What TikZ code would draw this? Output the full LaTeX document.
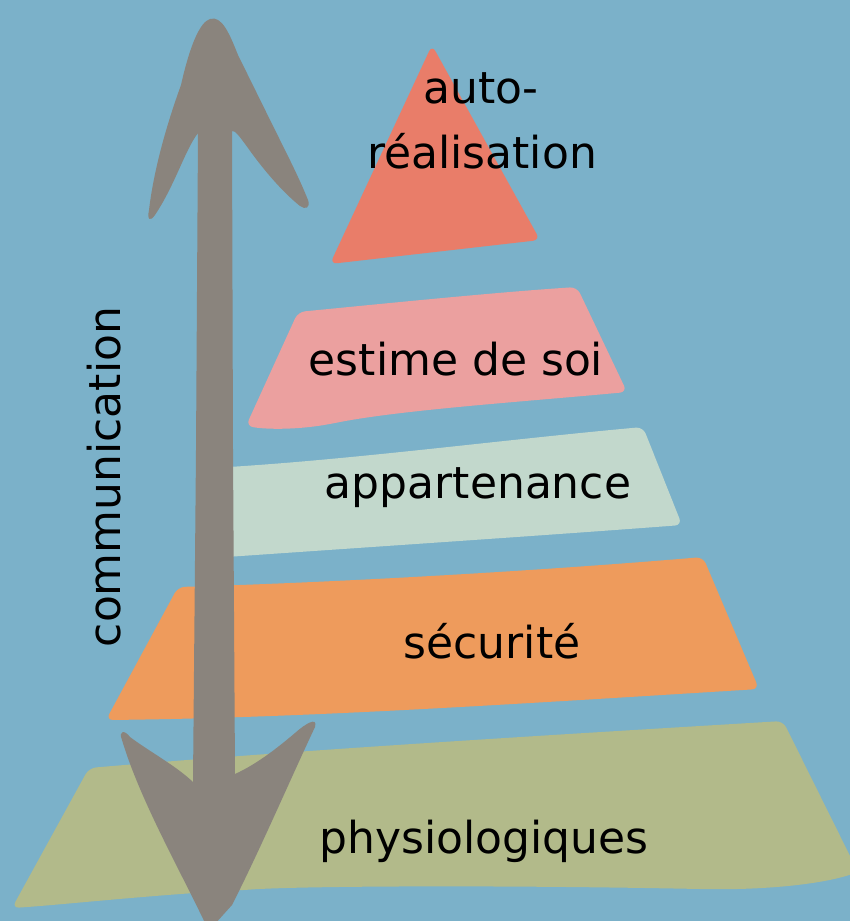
\documentclass[tikz,border=0pt]{standalone}
\usepackage{fontspec}
\newfontfamily\labelfont{DejaVu Sans}
\definecolor{bgblue}{RGB}{123,177,201}
\definecolor{arrowgray}{RGB}{138,132,125}
\definecolor{toptri}{RGB}{233,125,105}
\definecolor{estimec}{RGB}{235,160,159}
\definecolor{appartc}{RGB}{194,216,204}
\definecolor{securc}{RGB}{238,155,92}
\definecolor{physioc}{RGB}{178,186,138}
\tikzset{
  layer/.style={rounded corners=7pt, draw=none},
  lbl/.style={font=\labelfont\fontsize{44}{52}\selectfont, text=black, anchor=base, inner sep=0pt}
}
\begin{document}
\begin{tikzpicture}[x=1pt,y=-1pt]
\useasboundingbox (0,0) rectangle (850,921);
\clip (0,0) rectangle (850,921);
\fill[bgblue] (0,0) rectangle (850,921);

% pyramid layers
\fill[layer, toptri] (432,45) -- (540,240) -- (330,264) -- cycle;
\fill[layer, estimec] (298,312) .. controls (400,302) and (500,292) .. (577,287)
  -- (627,392) .. controls (520,402) and (400,410) .. (330,424)
  .. controls (300,429) and (270,430) .. (246,426) -- cycle;
\fill[layer, appartc] (212,468) .. controls (350,460) and (500,440) .. (643,427)
  -- (682,525) .. controls (550,535) and (400,545) .. (212,558) -- cycle;
\fill[layer, securc] (178,587) .. controls (350,582) and (550,570) .. (703,557)
  -- (759,689) .. controls (500,705) and (300,718) .. (106,720) -- cycle;
\fill[layer, physioc] (89,768) .. controls (300,750) and (550,735) .. (783,721)
  -- (858,872) .. controls (820,885) and (760,890) .. (700,889)
  .. controls (500,885) and (300,886) .. (244,890)
  .. controls (150,895) and (60,905) .. (12,908) -- cycle;

% labels
\node[lbl] (auto) at (481,103) {auto-};
\node[lbl] (real) at (482,168) {réalisation};
\node[lbl] (estime) at (456,375) {estime de soi};
\node[lbl] (appart) at (478,498) {appartenance};
\node[lbl] (secur) at (492,658) {sécurité};
\node[lbl] (physio) at (484,853) {physiologiques};

% double arrow
\fill[arrowgray] (210,19) .. controls (222,15) and (230,35) .. (238,55)
  -- (275,130) .. controls (290,160) and (300,180) .. (308,200)
  .. controls (311,208) and (305,210) .. (300,206)
  .. controls (280,190) and (260,165) .. (248,148)
  .. controls (240,137) and (235,130) .. (232,131)
  -- (233,450) -- (235,774)
  .. controls (255,765) and (275,750) .. (295,733)
  .. controls (305,724) and (318,716) .. (315,727)
  .. controls (290,780) and (260,850) .. (232,905)
  -- (214,925) -- (206,925)
  .. controls (180,870) and (140,800) .. (122,740)
  .. controls (118,730) and (125,730) .. (130,737)
  .. controls (150,752) and (175,765) .. (193,782)
  -- (196,450) -- (198,133)
  .. controls (185,150) and (175,185) .. (155,215)
  .. controls (150,222) and (147,220) .. (149,210)
  .. controls (155,160) and (172,110) .. (181,85)
  .. controls (190,45) and (200,22) .. (210,19) -- cycle;

\node[lbl, rotate=90] (comm) at (120,477) {communication};
\end{tikzpicture}
\end{document}
